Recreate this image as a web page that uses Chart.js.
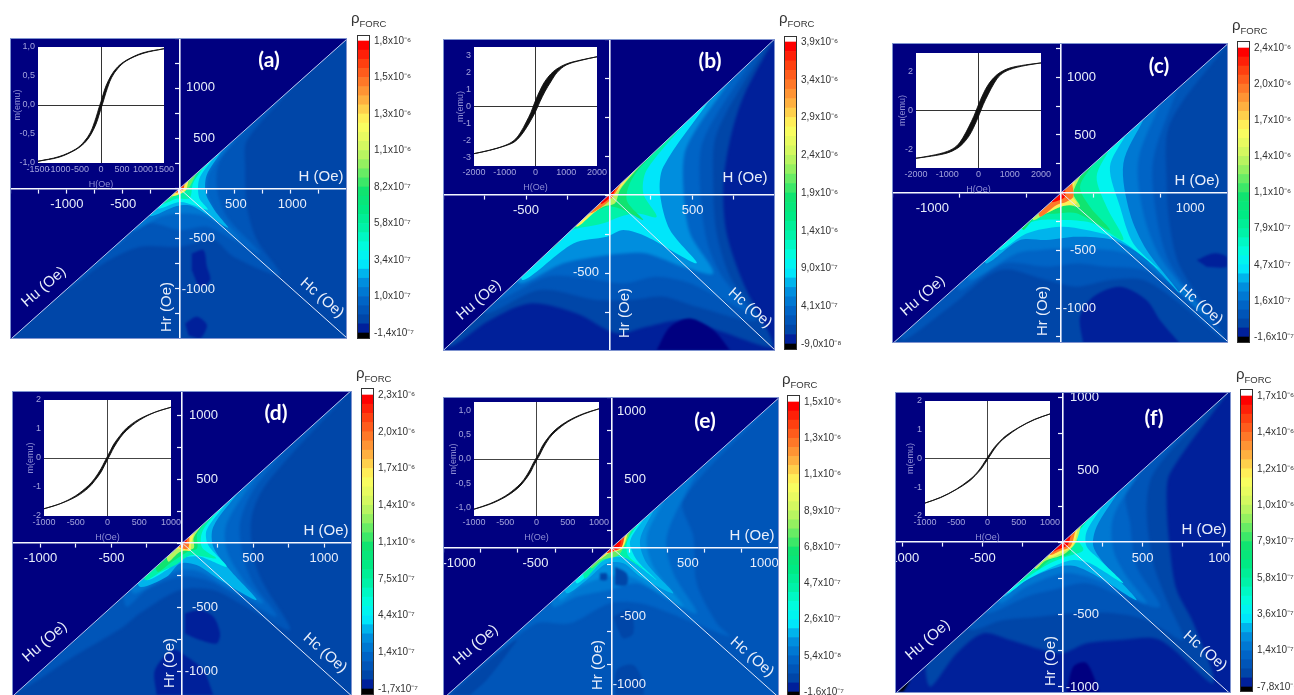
<!DOCTYPE html>
<html>
<head>
<meta charset="utf-8">
<title>FORC diagrams</title>
<script src="https://cdn.jsdelivr.net/npm/chart.js@4/dist/chart.umd.min.js"></script>
<style>
  html, body { margin: 0; background: #fff; }
  #page { position: relative; width: 1294px; height: 695px; overflow: hidden; background: #fff; }
  #page canvas { position: absolute; filter: blur(0.45px); }
  .rho { position: absolute; color: #333; font: 15px "Liberation Sans", sans-serif; line-height: 18px; white-space: nowrap; filter: blur(0.3px); }
  .rho span { font-size: 9.5px; position: relative; top: 4px; }
</style>
</head>
<body>
<div id="page"></div>
<script>
// Colour scale, from ρ = lowest tick (0) to highest tick (8), four steps per tick
const palette = [
  '#000080', '#00209a', '#0046a8', '#0055b8', '#0064c6', '#0078d2', '#008ede', '#00b4ec',
  '#00e6fa', '#00f4f0', '#00fcdc', '#00f8c4', '#00f2a8', '#00ee96', '#00ea84', '#08e67a',
  '#10e470', '#3ce868', '#68ec64', '#94f060', '#b8f460', '#d4f860', '#e8fb60', '#f8fd60',
  '#ffee58', '#ffd04c', '#ffb040', '#ff9434', '#ff7828', '#ff5c1c', '#ff4010', '#ff2008', '#ff0000'
];

// Colour bar labels, bottom to top
const barLabelsA = ['-1,4x10⁻⁷', '1,0x10⁻⁷', '3,4x10⁻⁷', '5,8x10⁻⁷', '8,2x10⁻⁷', '1,1x10⁻⁶', '1,3x10⁻⁶', '1,5x10⁻⁶', '1,8x10⁻⁶'];
const barLabelsB = ['-9,0x10⁻⁸', '4,1x10⁻⁷', '9,0x10⁻⁷', '1,4x10⁻⁶', '1,9x10⁻⁶', '2,4x10⁻⁶', '2,9x10⁻⁶', '3,4x10⁻⁶', '3,9x10⁻⁶'];
const barLabelsC = ['-1,6x10⁻⁷', '1,6x10⁻⁷', '4,7x10⁻⁷', '7,9x10⁻⁷', '1,1x10⁻⁶', '1,4x10⁻⁶', '1,7x10⁻⁶', '2,0x10⁻⁶', '2,4x10⁻⁶'];
const barLabelsD = ['-1,7x10⁻⁷', '1,4x10⁻⁷', '4,4x10⁻⁷', '7,5x10⁻⁷', '1,1x10⁻⁶', '1,4x10⁻⁶', '1,7x10⁻⁶', '2,0x10⁻⁶', '2,3x10⁻⁶'];
const barLabelsE = ['-1,6x10⁻⁷', '5,4x10⁻⁸', '2,6x10⁻⁷', '4,7x10⁻⁷', '6,8x10⁻⁷', '8,9x10⁻⁷', '1,1x10⁻⁶', '1,3x10⁻⁶', '1,5x10⁻⁶'];
const barLabelsF = ['-7,8x10⁻⁸', '1,4x10⁻⁷', '3,6x10⁻⁷', '5,8x10⁻⁷', '7,9x10⁻⁷', '1,0x10⁻⁶', '1,2x10⁻⁶', '1,4x10⁻⁶', '1,7x10⁻⁶'];

// Main axis labels (Oe)
const xLabelsA = [-1000, -500, 500, 1000];
const yLabelsA = [1000, 500, -500, -1000];
const xLabelsB = [-500, 500];
const yLabelsB = [-500];
const xLabelsC = [-1000, 1000];
const yLabelsC = [1000, 500, -500, -1000];
const xLabelsD = [-1000, -500, 500, 1000];
const yLabelsD = [1000, 500, -500, -1000];
const xLabelsE = [-1000, -500, 500, 1000];
const yLabelsE = [1000, 500, -500, -1000];
const xLabelsF = [-1000, -500, 500, 1000];
const yLabelsF = [1000, 500, -500, -1000];

// ρ level of the area under all contours (in colour bar ticks)
const baseLevels = [0.5, 0.25, 0.5, 0.5, 0.75, 0.25];

// Contour lines as [H, Hr] in Oe, running from the
// upper diagonal end round the three arms to the lower diagonal end
const ridgeLevelsA = [0.75, 1, 1.25, 1.75, 2.25, 3, 4.5, 6, 7.5];
const ridgesA = [
  [[1000,1000],[598,480],[583,215],[598,-182],[686,-513],[893,-861],[479,-679],[302,-513],[6,-580],[-349,-580],[-674,-745],[-1000,-1000]],
  [[650,650],[361,282],[331,17],[420,-282],[716,-646],[479,-513],[243,-381],[6,-414],[-290,-348],[-586,-586]],
  [[480,480],[257,149],[243,-50],[331,-248],[538,-513],[243,-282],[6,-248],[-172,-282],[-408,-414]],
  [[380,380],[240,130],[235,-55],[320,-230],[430,-390],[110,-175],[-24,-175],[-260,-275]],
  [[300,300],[175,95],[175,-95],[250,-210],[10,-135],[-190,-200]],
  [[220,220],[120,50],[90,-95],[-24,-100],[-150,-150]],
  [[150,150],[70,-10],[-24,-60],[-105,-105]],
  [[80,80],[50,-25],[-75,-75]],
  [[45,45],[30,-15],[-40,-40]]
];
const patchLevelsA = [0.25, 0.25];
const patchesA = [
  [[109,-646],[213,-613],[243,-779],[272,-911],[183,-977],[109,-812]],
  [[50,-1342],[154,-1275],[243,-1358],[183,-1491],[80,-1458]]
];

const ridgeLevelsB = [0.5, 0.75, 1, 1.5, 2, 3, 4, 5, 6, 7, 8];
const ridgesB = [
  [[985,985],[804,624],[724,347],[684,49],[704,-249],[804,-568],[984,-972],[644,-866],[444,-802],[224,-845],[44,-887],[-196,-760],[-476,-696],[-716,-802],[-956,-972]],
  [[930,930],[644,389],[624,49],[644,-249],[724,-526],[884,-802],[524,-717],[324,-653],[124,-675],[-76,-675],[-416,-611],[-736,-760]],
  [[850,850],[564,347],[544,49],[584,-292],[664,-504],[824,-738],[484,-568],[284,-526],[84,-568],[-196,-526],[-376,-526],[-676,-675]],
  [[720,720],[464,304],[444,49],[484,-249],[624,-504],[444,-462],[224,-377],[84,-377],[-76,-398],[-276,-440],[-536,-568]],
  [[600,600],[324,177],[304,6],[364,-228],[524,-440],[224,-270],[84,-228],[-16,-270],[-216,-313],[-516,-547]],
  [[450,450],[224,155],[204,6],[284,-143],[164,-121],[64,-143],[-36,-185],[-276,-249],[-416,-419]],
  [[340,340],[144,113],[104,-36],[204,-164],[84,-100],[-16,-79],[-216,-206],[-356,-356]],
  [[190,190],[64,28],[34,-57],[-36,-79],[-196,-185],[-306,-306]],
  [[140,140],[54,28],[4,-36],[-96,-121],[-196,-206]],
  [[70,70],[34,6],[-16,-57],[-120,-120]],
  [[40,40],[25,5],[-5,-30],[-50,-60]]
];
const patchLevelsB = [0];
const patchesB = [
  [[284,-994],[364,-845],[484,-792],[624,-866],[724,-994]]
];

const ridgeLevelsC = [0.75, 1, 1.25, 1.75, 2.25, 3, 4, 5, 6, 7, 8];
const ridgesC = [
  [[1280,1280],[842,601],[817,81],[842,-295],[920,-642],[1269,-1277],[920,-959],[636,-757],[377,-757],[119,-815],[-114,-757],[-475,-670],[-863,-988],[-1225,-1277]],
  [[900,900],[713,283],[739,-208],[842,-613],[1178,-1133],[894,-844],[636,-670],[351,-642],[119,-613],[-114,-642],[-450,-613],[-786,-844]],
  [[760,760],[597,283],[636,-179],[765,-555],[1101,-1046],[817,-757],[506,-526],[119,-483],[-165,-497],[-346,-526],[-708,-757]],
  [[640,640],[481,254],[532,-179],[661,-497],[920,-873],[636,-555],[403,-410],[119,-381],[-114,-410],[-320,-410],[-579,-613]],
  [[500,500],[377,225],[455,-121],[558,-439],[765,-670],[455,-410],[196,-324],[-10,-295],[-269,-353],[-475,-497]],
  [[370,370],[274,139],[351,-121],[481,-410],[248,-266],[41,-237],[-165,-237],[-320,-295],[-398,-410]],
  [[250,250],[145,52],[222,-121],[377,-324],[119,-179],[-10,-179],[-191,-208],[-295,-324]],
  [[150,150],[93,-6],[145,-121],[41,-107],[-114,-179],[-217,-237]],
  [[110,110],[80,-20],[119,-92],[-10,-121],[-140,-179]],
  [[85,85],[93,-35],[41,-78],[-36,-107],[-165,-208]],
  [[30,40],[28,-35],[-10,-64],[-75,-78]]
];
const patchLevelsC = [0.25, 0.25];
const patchesC = [
  [[170,-1306],[145,-1075],[248,-902],[455,-815],[661,-931],[765,-1104],[920,-1306]],
  [[1049,-584],[1178,-526],[1282,-555],[1282,-642],[1127,-642]]
];

const ridgeLevelsD = [0.75, 1, 1.25, 1.75, 2.25, 3, 4, 5, 6, 7, 8];
const ridgesD = [
  [[1159,1159],[595,466],[489,206],[501,-107],[571,-315],[759,-680],[407,-471],[219,-367],[-16,-367],[-299,-549],[-416,-654],[-769,-888],[-1145,-1148]],
  [[720,720],[501,414],[407,154],[430,-107],[501,-315],[665,-575],[360,-393],[172,-289],[-16,-263],[-252,-367],[-393,-497]],
  [[520,520],[313,154],[313,-55],[430,-289],[571,-471],[313,-341],[125,-224],[-16,-211],[-181,-302],[-346,-393]],
  [[400,400],[219,128],[219,-29],[336,-211],[524,-445],[266,-289],[101,-172],[-16,-159],[-110,-263],[-299,-341]],
  [[310,310],[172,102],[183,-16],[313,-185],[125,-107],[-5,-120],[-110,-211],[-252,-289]],
  [[240,240],[140,85],[140,-35],[240,-120],[60,-95],[-45,-170],[-150,-225],[-260,-290]],
  [[175,175],[105,70],[105,-40],[35,-70],[-70,-145],[-175,-225]],
  [[135,135],[80,40],[80,-40],[-18,-70],[-100,-145]],
  [[85,85],[62,-5],[55,-60],[-30,-45],[-60,-60]],
  [[50,50],[48,-15],[35,-48],[-25,-25]],
  [[30,30],[28,0],[-12,-12]]
];
const patchLevelsD = [0.25, 0.25];
const patchesD = [
  [[19,-549],[125,-523],[219,-576],[266,-706],[242,-784],[125,-758],[19,-706]],
  [[-181,-1187],[-193,-992],[-63,-836],[31,-888],[148,-992],[219,-1187]]
];

const ridgeLevelsE = [1, 1.25, 1.5, 1.75, 2.25, 3, 4.5, 6, 7.5, 8];
const ridgesE = [
  [[1060,1060],[470,349],[536,80],[557,-261],[689,-554],[776,-651],[383,-480],[186,-407],[-11,-407],[-273,-554],[-492,-554],[-798,-798]],
  [[560,560],[361,80],[404,-188],[557,-480],[339,-359],[164,-261],[-11,-310],[-230,-359],[-383,-432]],
  [[340,340],[230,80],[273,-139],[470,-432],[251,-285],[120,-212],[-33,-212],[-208,-285],[-339,-383]],
  [[280,280],[186,56],[230,-115],[404,-334],[186,-212],[77,-115],[-33,-115],[-164,-237],[-295,-334]],
  [[210,210],[120,44],[164,-90],[295,-237],[98,-78],[-33,-78],[-142,-188],[-230,-261]],
  [[170,170],[100,38],[110,-62],[205,-150],[65,-65],[-62,-100],[-175,-225]],
  [[130,130],[80,8],[42,-58],[-62,-90],[-135,-150]],
  [[105,105],[68,-8],[-14,-38],[-80,-85]],
  [[85,85],[66,5],[14,-26],[-35,-35]],
  [[62,62],[52,10],[8,-16],[-15,-15]]
];
const patchLevelsE = [0.5, 0.5, 0.5, 0.5, 0.5];
const patchesE = [
  [[22,-139],[98,-188],[98,-273],[22,-273]],
  [[-77,-188],[-33,-188],[-33,-237],[-77,-237]],
  [[11,-505],[120,-456],[142,-627],[77,-663],[33,-578]],
  [[22,-1078],[33,-895],[142,-859],[208,-993],[208,-1078]],
  [[-1060,-1078],[-798,-822],[-623,-676],[-667,-749],[-820,-968],[-930,-1078]]
];

const ridgeLevelsF = [0.5, 0.75, 1, 1.25, 1.75, 2.25, 3, 4, 5, 6, 7, 8];
const ridgesF = [
  [[1025,1025],[671,477],[650,293],[671,-53],[712,-329],[817,-560],[942,-975],[608,-675],[358,-675],[150,-698],[-17,-767],[-329,-675],[-496,-629],[-662,-767],[-829,-998]],
  [[900,900],[567,477],[525,223],[567,-145],[650,-399],[754,-675],[525,-537],[317,-491],[67,-491],[-142,-514],[-371,-537],[-579,-606]],
  [[700,700],[400,362],[421,131],[462,-168],[608,-445],[379,-376],[150,-283],[-58,-329],[-225,-376],[-475,-491]],
  [[480,480],[317,177],[317,-53],[400,-237],[525,-422],[317,-306],[150,-237],[4,-214],[-225,-306],[-392,-422]],
  [[350,350],[212,108],[192,-30],[275,-168],[462,-399],[254,-260],[87,-168],[-17,-168],[-225,-260],[-371,-376]],
  [[250,250],[150,74],[150,-30],[233,-122],[379,-283],[171,-145],[67,-122],[-37,-157],[-225,-260],[-350,-353]],
  [[170,170],[87,39],[129,-53],[25,-99],[-79,-145],[-183,-214],[-287,-287]],
  [[130,130],[67,16],[46,-76],[-79,-122],[-162,-191]],
  [[115,115],[78,-8],[4,-85],[-110,-130],[-170,-185]],
  [[95,95],[66,-20],[-6,-72],[-90,-105]],
  [[80,80],[48,-30],[-17,-60],[-80,-85]],
  [[52,52],[30,-20],[-27,-48],[-60,-62]]
];
const patchLevelsF = [0, -1];
const patchesF = [
  [[25,-1044],[67,-859],[150,-836],[233,-1044]],
  [[-1037,-1032],[-954,-951],[-996,-1032]]
];

// Inset hysteresis loops: applied field (Oe) and the two branches of m (emu)
const loopFieldA = [-1500, -1000, -600, -400, -250, -120, -50, 0, 50, 120, 250, 400, 600, 1000, 1500];
const loopUpperA = [-0.97, -0.89, -0.76, -0.63, -0.47, -0.22, -0.05, 0.06, 0.18, 0.33, 0.52, 0.66, 0.77, 0.9, 0.97];
const loopLowerA = [-0.97, -0.9, -0.77, -0.66, -0.52, -0.33, -0.18, -0.06, 0.05, 0.22, 0.47, 0.63, 0.76, 0.89, 0.97];
const loopFieldB = [-2000, -1500, -1000, -700, -500, -300, -150, 0, 150, 300, 500, 700, 1000, 1500, 2000];
const loopUpperB = [-2.75, -2.55, -2.28, -1.98, -1.55, -0.9, -0.35, 0.35, 0.95, 1.45, 1.9, 2.2, 2.48, 2.72, 2.9];
const loopLowerB = [-2.75, -2.56, -2.3, -2.08, -1.75, -1.25, -0.8, -0.3, 0.3, 0.85, 1.45, 1.98, 2.42, 2.7, 2.9];
const loopFieldC = [-2000, -1500, -1000, -700, -500, -300, -150, 0, 150, 300, 500, 700, 1000, 1500, 2000];
const loopUpperC = [-2.45, -2.31, -2.1, -1.82, -1.4, -0.8, -0.3, 0.3, 0.85, 1.3, 1.7, 1.96, 2.18, 2.34, 2.44];
const loopLowerC = [-2.45, -2.34, -2.18, -1.96, -1.7, -1.3, -0.85, -0.3, 0.3, 0.8, 1.4, 1.82, 2.1, 2.31, 2.44];
const loopFieldD = [-1000, -750, -500, -300, -200, -100, -50, 0, 50, 100, 200, 300, 500, 750, 1000];
const loopUpperD = [-1.75, -1.58, -1.3, -0.95, -0.7, -0.36, -0.15, 0.06, 0.27, 0.48, 0.78, 1.03, 1.34, 1.58, 1.75];
const loopLowerD = [-1.75, -1.58, -1.34, -1.03, -0.78, -0.48, -0.27, -0.06, 0.15, 0.36, 0.7, 0.95, 1.3, 1.58, 1.75];
const loopFieldE = [-1000, -750, -500, -300, -200, -100, -50, 0, 50, 100, 200, 300, 500, 750, 1000];
const loopUpperE = [-1.03, -0.92, -0.76, -0.56, -0.42, -0.21, -0.08, 0.03, 0.15, 0.28, 0.46, 0.6, 0.78, 0.93, 1.03];
const loopLowerE = [-1.03, -0.93, -0.78, -0.6, -0.46, -0.28, -0.15, -0.03, 0.08, 0.21, 0.42, 0.56, 0.76, 0.92, 1.03];
const loopFieldF = [-1000, -750, -500, -300, -200, -100, -50, 0, 50, 100, 200, 300, 500, 750, 1000];
const loopUpperF = [-1.55, -1.35, -1.07, -0.76, -0.57, -0.3, -0.13, 0.04, 0.2, 0.36, 0.6, 0.8, 1.08, 1.36, 1.55];
const loopLowerF = [-1.55, -1.36, -1.08, -0.8, -0.6, -0.36, -0.2, -0.04, 0.13, 0.3, 0.57, 0.76, 1.07, 1.35, 1.55];

// Inset tick labels
const insetXA = [-1500, -1000, -500, 0, 500, 1000, 1500];
const insetYA = [-1, -0.5, 0, 0.5, 1];
const insetXB = [-2000, -1000, 0, 1000, 2000];
const insetYB = [-3, -2, -1, 0, 1, 2, 3];
const insetXC = [-2000, -1000, 0, 1000, 2000];
const insetYC = [-2, 0, 2];
const insetXD = [-1000, -500, 0, 500, 1000];
const insetYD = [-2, -1, 0, 1, 2];
const insetXE = [-1000, -500, 0, 500, 1000];
const insetYE = [-1, -0.5, 0, 0.5, 1];
const insetXF = [-1000, -500, 0, 500, 1000];
const insetYF = [-2, -1, 0, 1, 2];

const page = document.getElementById('page');

function levelColor(t) {
  return t < 0 ? '#000000' : palette[Math.round(t * 4)];
}

function addCanvas(left, top, width, height) {
  const c = document.createElement('canvas');
  c.width = width;
  c.height = height;
  c.style.left = left + 'px';
  c.style.top = top + 'px';
  c.style.width = width + 'px';
  c.style.height = height + 'px';
  page.appendChild(c);
  return c;
}

function toPoints(list) {
  return list.map(p => ({x: p[0], y: p[1]}));
}

function filled(points, color, tension, soften) {
  return {
    data: points, showLine: true, pointRadius: 0, borderWidth: 0,
    borderColor: color, backgroundColor: color, fill: 'shape', tension: tension, soften: soften
  };
}

function stroked(points, color) {
  return {data: points, showLine: true, pointRadius: 0, borderWidth: 1, borderColor: color, fill: false, tension: 0, soften: 0};
}

// Main FORC map with axes crossing at the origin
function drawMap(p) {
  const big = 4000;
  const sets = [];
  sets.push(filled(toPoints([[-big, -big], [big, big], [big, -big]]), levelColor(p.base), 0, 0));
  p.ridges.forEach((ridge, i) => {
    const first = ridge[0];
    const last = ridge[ridge.length - 1];
    // close the contour on the far side of the diagonal, the navy triangle covers it
    const closed = ridge.concat([[last[0], last[0] + 100], [first[0] - 100, first[0]]]);
    const level = p.ridgeLevels[i];
    sets.push(filled(toPoints(closed), levelColor(level), 0.3, level >= 1.75 ? 0.7 : 1.5));
  });
  p.patches.forEach((patch, i) => {
    sets.push(filled(toPoints(patch), levelColor(p.patchLevels[i]), 0.3, 1.2));
  });
  sets.push(filled(toPoints([[-big, -big], [big, big], [-big, big]]), '#000080', 0, 0.6));
  sets.push(stroked(toPoints([[-big, -big], [big, big]]), '#b4c4ee'));
  sets.push(stroked(toPoints([[0, 0], [big, -big]]), '#e2e9fb'));
  sets.reverse(); // first dataset is painted last

  const axis = (min, max, step, pos) => ({
    type: 'linear', min: min, max: max, position: pos,
    ticks: {display: false, stepSize: step, includeBounds: false},
    grid: {drawOnChartArea: false, drawTicks: true, tickLength: 4, tickColor: '#eef2ff', tickWidth: 1.2, z: 1},
    border: {color: '#f4f7ff', width: 1.6, z: 1}
  });

  // soften the contour steps, the scanned figure has no hard edges between them.
  // The filler paints a dataset before this hook runs, so set the blur of the next one here
  const blurFor = ds => (ds && ds.soften ? 'blur(' + ds.soften + 'px)' : 'none');
  const softBands = {
    id: 'softBands',
    beforeDatasetDraw(chart, args) {
      chart.ctx.filter = args.index <= 1 ? 'none' : blurFor(chart.data.datasets[args.index - 1]);
    },
    afterDatasetsDraw(chart) { chart.ctx.filter = 'none'; }
  };

  const mapText = {
    id: 'mapText',
    afterDraw(chart) {
      const ctx = chart.ctx;
      const ox = p.left, oy = p.top;
      ctx.save();
      ctx.fillStyle = '#e8eefa';
      ctx.textBaseline = 'middle';
      ctx.font = '13px "Liberation Sans"';
      ctx.textAlign = 'center';
      p.xLabels.forEach(v => ctx.fillText(String(v), chart.scales.x.getPixelForValue(v), p.xLabelY - oy));
      ctx.textAlign = 'right';
      p.yLabels.forEach(v => ctx.fillText(String(v), p.yLabelX - ox, chart.scales.y.getPixelForValue(v)));
      ctx.textAlign = 'center';
      ctx.font = '15px "Liberation Sans"';
      const rotated = (text, pos, angle) => {
        ctx.save();
        ctx.translate(pos[0] - ox, pos[1] - oy);
        ctx.rotate(angle * Math.PI / 180);
        ctx.fillText(text, 0, 0);
        ctx.restore();
      };
      rotated('H (Oe)', p.hPos, 0);
      rotated('Hu (Oe)', p.huPos, -41);
      rotated('Hc (Oe)', p.hcPos, 41);
      rotated('Hr (Oe)', p.hrPos, -90);
      ctx.fillStyle = '#ffffff';
      ctx.font = 'bold 21px Lato';
      rotated(p.tag, p.tagPos, 0);
      // plot frame
      ctx.strokeStyle = '#7f93cf';
      ctx.lineWidth = 1;
      const a = chart.chartArea;
      ctx.strokeRect(a.left + 0.5, a.top + 0.5, a.right - a.left - 1, a.bottom - a.top - 1);
      ctx.restore();
    }
  };

  new Chart(addCanvas(p.left, p.top, p.right - p.left, p.bottom - p.top), {
    type: 'scatter',
    data: {datasets: sets},
    options: {
      responsive: false,
      animation: false,
      layout: {padding: 0},
      plugins: {legend: {display: false}, tooltip: {enabled: false}},
      scales: {
        x: axis(p.xRange[0], p.xRange[1], p.xStep, {y: 0}),
        y: axis(p.yRange[0], p.yRange[1], 250, {x: 0})
      }
    },
    plugins: [softBands, mapText]
  });
}

// Inset hysteresis loop on a white plot area
function drawInset(p) {
  const s = p.inset;
  const yw = s.titleGap + 5;
  const xh = 27, padTop = 10, padRight = 18;
  const w = s.right - s.left, h = s.bottom - s.top;
  const upper = s.field.map((v, i) => ({x: v, y: s.upper[i]}));
  const lower = s.field.map((v, i) => ({x: v, y: s.lower[i]}));
  const lineSet = (pts, fill) => ({
    data: pts, showLine: true, pointRadius: 0, borderWidth: 0.9, borderColor: '#111',
    backgroundColor: '#111', fill: fill, tension: 0.35
  });
  const lavender = '#a3a3dc';
  const tickFont = {family: 'Liberation Sans', size: 9};
  const whitePlot = {
    id: 'whitePlot',
    beforeDraw(chart) {
      const a = chart.chartArea;
      chart.ctx.save();
      chart.ctx.fillStyle = '#ffffff';
      chart.ctx.fillRect(a.left, a.top, a.right - a.left, a.bottom - a.top);
      chart.ctx.restore();
    }
  };
  const zeroGrid = ctx => (ctx.tick && ctx.tick.value === 0 ? s.zeroColor : 'rgba(0,0,0,0)');
  new Chart(addCanvas(s.left - yw, s.top - padTop, w + yw + padRight, h + padTop + xh), {
    type: 'scatter',
    data: {datasets: [lineSet(upper, '+1'), lineSet(lower, false)]},
    options: {
      responsive: false,
      animation: false,
      layout: {padding: {top: padTop, right: padRight, left: 0, bottom: 0}},
      plugins: {legend: {display: false}, tooltip: {enabled: false}},
      scales: {
        x: {
          type: 'linear', min: s.xMax * -1, max: s.xMax,
          afterBuildTicks: ax => { ax.ticks = s.xTicks.map(v => ({value: v})); },
          afterFit: ax => { ax.height = xh; },
          ticks: {color: lavender, font: tickFont, autoSkip: false, maxRotation: 0, padding: 1, callback: v => String(v)},
          grid: {color: zeroGrid, lineWidth: 1, drawTicks: false},
          border: {display: false},
          title: {display: true, text: 'H(Oe)', color: '#8f8fd4', font: tickFont, padding: 0}
        },
        y: {
          type: 'linear', min: s.yMax * -1, max: s.yMax,
          afterBuildTicks: ax => { ax.ticks = s.yTicks.map(v => ({value: v})); },
          afterFit: ax => { ax.width = yw; },
          ticks: {
            color: lavender, font: tickFont, autoSkip: false, padding: 3,
            callback: v => v.toFixed(s.digits).replace('.', ',')
          },
          grid: {color: zeroGrid, lineWidth: 1, drawTicks: false},
          border: {display: false},
          title: {display: true, text: 'm(emu)', color: '#8f8fd4', font: tickFont, padding: 0}
        }
      }
    },
    plugins: [whitePlot]
  });
}

// Colour bar as a stacked column, tick labels on the right
function drawBar(p) {
  const b = p.bar;
  const perTick = (b.label0 - b.label8) / 8;
  const labelW = 56;
  const sets = [{data: [-1], backgroundColor: '#000000', stack: 's'}];
  palette.slice(1).forEach(c => sets.push({data: [0.25], backgroundColor: c, stack: 's'}));
  sets.push({data: [1], backgroundColor: '#ffffff', stack: 's'});
  const frame = {
    id: 'barFrame',
    afterDraw(chart) {
      const a = chart.chartArea;
      chart.ctx.save();
      chart.ctx.strokeStyle = '#333333';
      chart.ctx.lineWidth = 1;
      chart.ctx.strokeRect(a.left + 0.5, a.top + 0.5, a.right - a.left - 1, a.bottom - a.top - 1);
      chart.ctx.restore();
    }
  };
  new Chart(addCanvas(b.left, b.top, 13 + labelW, b.bottom - b.top), {
    type: 'bar',
    data: {labels: ['ρ'], datasets: sets},
    options: {
      responsive: false,
      animation: false,
      layout: {padding: 0},
      plugins: {legend: {display: false}, tooltip: {enabled: false}},
      datasets: {bar: {barPercentage: 1, categoryPercentage: 1, borderWidth: 0}},
      scales: {
        x: {display: false, stacked: true},
        y: {
          type: 'linear', position: 'right', stacked: true,
          min: -(b.bottom - b.label0) / perTick,
          max: 8 + (b.label8 - b.top) / perTick,
          afterBuildTicks: ax => { ax.ticks = b.labels.map((t, i) => ({value: i})); },
          afterFit: ax => { ax.width = labelW; ax.paddingTop = 0; ax.paddingBottom = 0; },
          ticks: {
            color: '#333333', font: {family: 'Liberation Sans', size: 10}, padding: 4, autoSkip: false,
            callback: v => b.labels[v]
          },
          grid: {display: false, drawTicks: false},
          border: {display: false}
        }
      }
    },
    plugins: [frame]
  });
  const rho = document.createElement('div');
  rho.className = 'rho';
  rho.style.left = b.rhoX + 'px';
  rho.style.top = (b.rhoY - 9) + 'px';
  rho.innerHTML = 'ρ<span>FORC</span>';
  page.appendChild(rho);
}

const panels = [
  {
    tag: '(a)', left: 10, right: 347, top: 38, bottom: 339, xRange: [-1504, 1486], yRange: [-1496, 1496], xStep: 250,
    base: baseLevels[0], ridges: ridgesA, ridgeLevels: ridgeLevelsA, patches: patchesA, patchLevels: patchLevelsA,
    xLabels: xLabelsA, yLabels: yLabelsA, xLabelY: 204, yLabelX: 215,
    tagPos: [269, 60], hPos: [321, 177], huPos: [44, 287], hcPos: [322, 298], hrPos: [167, 307],
    inset: {left: 38, right: 164, top: 47, bottom: 163, xMax: 1500, yMax: 1, digits: 1, titleGap: 21, zeroColor: '#333',
      field: loopFieldA, upper: loopUpperA, lower: loopLowerA, xTicks: insetXA, yTicks: insetYA},
    bar: {left: 357, top: 35, bottom: 339, label0: 333, label8: 41, labels: barLabelsA, rhoX: 351, rhoY: 18}
  },
  {
    tag: '(b)', left: 443, right: 775, top: 39, bottom: 351, xRange: [-998, 994], yRange: [-1000, 992], xStep: 250,
    base: baseLevels[1], ridges: ridgesB, ridgeLevels: ridgeLevelsB, patches: patchesB, patchLevels: patchLevelsB,
    xLabels: xLabelsB, yLabels: yLabelsB, xLabelY: 210, yLabelX: 599,
    tagPos: [710, 61], hPos: [745, 178], huPos: [479, 300], hcPos: [750, 308], hrPos: [625, 313],
    inset: {left: 474, right: 597, top: 47, bottom: 166, xMax: 2000, yMax: 3.47, digits: 0, titleGap: 14, zeroColor: '#333',
      field: loopFieldB, upper: loopUpperB, lower: loopLowerB, xTicks: insetXB, yTicks: insetYB},
    bar: {left: 784, top: 36, bottom: 350, label0: 344, label8: 42, labels: barLabelsB, rhoX: 779, rhoY: 18}
  },
  {
    tag: '(c)', left: 892, right: 1228, top: 43, bottom: 343, xRange: [-1312, 1292], yRange: [-1302, 1297], xStep: 500,
    base: baseLevels[2], ridges: ridgesC, ridgeLevels: ridgeLevelsC, patches: patchesC, patchLevels: patchLevelsC,
    xLabels: xLabelsC, yLabels: yLabelsC, xLabelY: 208, yLabelX: 1096,
    tagPos: [1159, 66], hPos: [1197, 181], huPos: [923, 296], hcPos: [1201, 305], hrPos: [1043, 311],
    inset: {left: 916, right: 1041, top: 53, bottom: 168, xMax: 2000, yMax: 2.95, digits: 0, titleGap: 14, zeroColor: '#333',
      field: loopFieldC, upper: loopUpperC, lower: loopLowerC, xTicks: insetXC, yTicks: insetYC},
    bar: {left: 1237, top: 41, bottom: 343, label0: 337, label8: 48, labels: barLabelsC, rhoX: 1232, rhoY: 25}
  },
  {
    tag: '(d)', left: 12, right: 352, top: 391, bottom: 696, xRange: [-1201, 1197], yRange: [-1195, 1188], xStep: 250,
    base: baseLevels[3], ridges: ridgesD, ridgeLevels: ridgeLevelsD, patches: patchesD, patchLevels: patchLevelsD,
    xLabels: xLabelsD, yLabels: yLabelsD, xLabelY: 558, yLabelX: 218,
    tagPos: [276, 413], hPos: [326, 531], huPos: [45, 642], hcPos: [325, 653], hrPos: [170, 663],
    inset: {left: 44, right: 171, top: 400, bottom: 516, xMax: 1000, yMax: 2, digits: 0, titleGap: 14, zeroColor: '#444',
      field: loopFieldD, upper: loopUpperD, lower: loopLowerD, xTicks: insetXD, yTicks: insetYD},
    bar: {left: 361, top: 388, bottom: 695, label0: 689, label8: 395, labels: barLabelsD, rhoX: 356, rhoY: 373}
  },
  {
    tag: '(e)', left: 443, right: 779, top: 397, bottom: 698, xRange: [-1106, 1097], yRange: [-1100, 1102], xStep: 250,
    base: baseLevels[4], ridges: ridgesE, ridgeLevels: ridgeLevelsE, patches: patchesE, patchLevels: patchLevelsE,
    xLabels: xLabelsE, yLabels: yLabelsE, xLabelY: 563, yLabelX: 646,
    tagPos: [705, 421], hPos: [752, 536], huPos: [476, 645], hcPos: [752, 657], hrPos: [598, 665],
    inset: {left: 474, right: 599, top: 402, bottom: 516, xMax: 1000, yMax: 1.17, digits: 1, titleGap: 21, zeroColor: '#444',
      field: loopFieldE, upper: loopUpperE, lower: loopLowerE, xTicks: insetXE, yTicks: insetYE},
    bar: {left: 787, top: 395, bottom: 697, label0: 692, label8: 402, labels: barLabelsE, rhoX: 782, rhoY: 379}
  },
  {
    tag: '(f)', left: 895, right: 1231, top: 392, bottom: 693, xRange: [-1048, 1052], yRange: [-1042, 1039], xStep: 250,
    base: baseLevels[5], ridges: ridgesF, ridgeLevels: ridgeLevelsF, patches: patchesF, patchLevels: patchLevelsF,
    xLabels: xLabelsF, yLabels: yLabelsF, xLabelY: 558, yLabelX: 1099,
    tagPos: [1154, 418], hPos: [1204, 530], huPos: [928, 640], hcPos: [1205, 651], hrPos: [1051, 661],
    inset: {left: 925, right: 1050, top: 401, bottom: 516, xMax: 1000, yMax: 2, digits: 0, titleGap: 15, zeroColor: '#444',
      field: loopFieldF, upper: loopUpperF, lower: loopLowerF, xTicks: insetXF, yTicks: insetYF},
    bar: {left: 1240, top: 389, bottom: 692, label0: 687, label8: 396, labels: barLabelsF, rhoX: 1236, rhoY: 374}
  }
];

panels.forEach(p => {
  drawMap(p);
  drawInset(p);
  drawBar(p);
});
</script>
</body>
</html>
